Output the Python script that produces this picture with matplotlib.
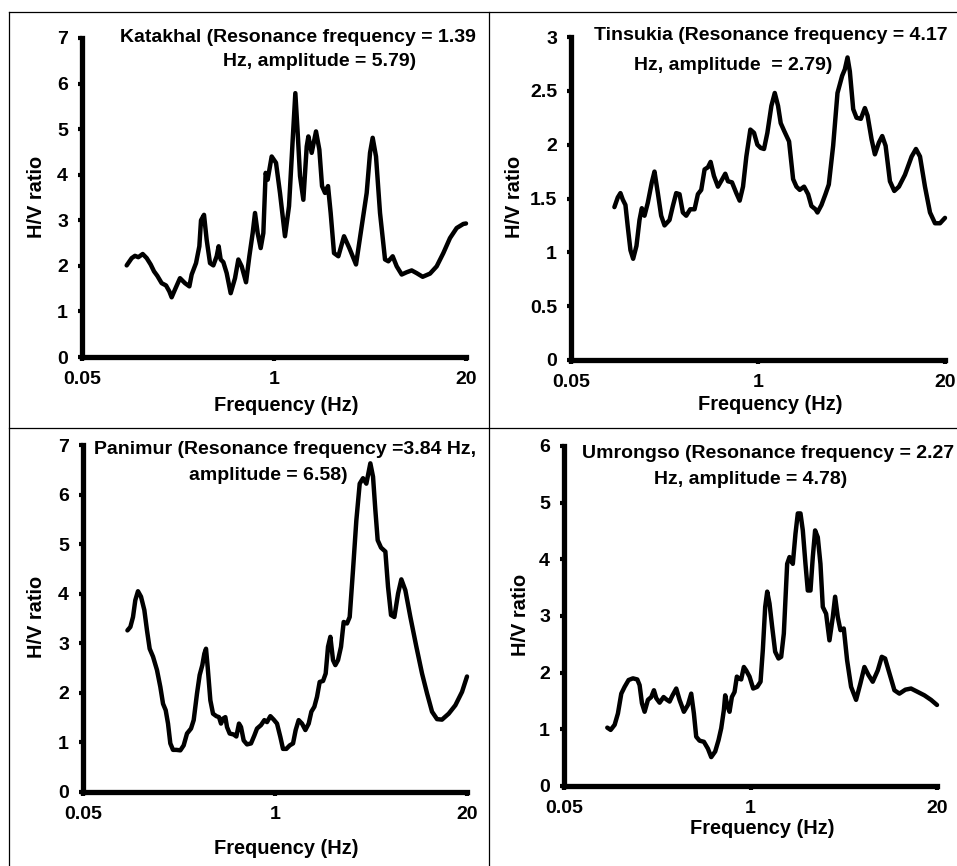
import matplotlib
matplotlib.use("Agg")
import matplotlib.pyplot as plt
from matplotlib.lines import Line2D
from matplotlib.ticker import FixedLocator, NullLocator, FuncFormatter

plt.rcParams['font.family'] = ['Liberation Sans', 'DejaVu Sans']
plt.rcParams['font.weight'] = 'bold'

# Katakhal
f1 = [0.1004, 0.1086, 0.1143, 0.1204, 0.1289, 0.1372, 0.1460, 0.1538, 0.1620, 0.1733,
      0.1855, 0.1953, 0.2025, 0.2133, 0.2307, 0.2494, 0.2670, 0.2768, 0.2962, 0.3120,
      0.3202, 0.3355, 0.3498, 0.3685, 0.3881, 0.4088, 0.4217, 0.4351, 0.4537, 0.4779,
      0.5087, 0.5443, 0.5734, 0.6039, 0.6463, 0.6807, 0.7170, 0.7436, 0.7750, 0.8124,
      0.8468, 0.8779, 0.9058, 0.9645, 1.032, 1.098, 1.187, 1.264, 1.339, 1.395,
      1.447, 1.501, 1.581, 1.666, 1.710, 1.800, 1.926, 2.029, 2.116, 2.217,
      2.323, 2.421, 2.551, 2.730, 2.982, 3.240, 3.596, 3.930, 4.247, 4.474,
      4.663, 4.912, 5.229, 5.654, 5.955, 6.372, 6.783, 7.333, 7.927, 8.570,
      9.265, 10.17, 11.41, 12.66, 14.04, 15.58, 17.29, 19.19, 20.0]
hv1 = [2.01, 2.17, 2.22, 2.19, 2.26, 2.17, 2.03, 1.88, 1.78, 1.62,
       1.57, 1.44, 1.31, 1.48, 1.73, 1.62, 1.55, 1.81, 2.06, 2.43,
       3.00, 3.12, 2.57, 2.06, 2.01, 2.21, 2.43, 2.14, 2.08, 1.84,
       1.40, 1.73, 2.14, 1.99, 1.64, 2.21, 2.72, 3.16, 2.72, 2.39,
       2.72, 4.04, 3.89, 4.40, 4.26, 3.60, 2.65, 3.31, 4.77, 5.79,
       4.92, 3.97, 3.45, 4.62, 4.84, 4.48, 4.95, 4.55, 3.75, 3.60,
       3.75, 3.16, 2.28, 2.21, 2.65, 2.39, 2.03, 2.87, 3.60, 4.48,
       4.81, 4.40, 3.16, 2.14, 2.10, 2.21, 1.99, 1.81, 1.86, 1.90,
       1.84, 1.76, 1.83, 1.99, 2.28, 2.61, 2.83, 2.92, 2.93]

# Tinsukia
f2 = [0.1002, 0.1058, 0.1104, 0.1146, 0.1196, 0.1241, 0.1296, 0.1353, 0.1427, 0.1498,
      0.1555, 0.1623, 0.1711, 0.1825, 0.1905, 0.2010, 0.2120, 0.2237, 0.2423, 0.2556,
      0.2697, 0.2845, 0.3001, 0.3167, 0.3376, 0.3619, 0.3818, 0.4028, 0.4250, 0.4483,
      0.4680, 0.4936, 0.5266, 0.5644, 0.5919, 0.6180, 0.6591, 0.7066, 0.7455, 0.7866,
      0.8297, 0.8846, 0.9381, 0.9897, 1.044, 1.101, 1.162, 1.239, 1.308, 1.379,
      1.439, 1.518, 1.645, 1.755, 1.851, 1.952, 2.092, 2.232, 2.354, 2.510,
      2.592, 2.764, 2.947, 3.109, 3.333, 3.573, 3.851, 4.020, 4.196, 4.355,
      4.596, 4.847, 5.195, 5.541, 5.784, 6.167, 6.505, 6.938, 7.318, 7.723,
      8.278, 8.874, 9.560, 10.53, 11.72, 12.56, 13.40, 14.51, 15.73, 17.04,
      18.47, 20.0]
hv2 = [1.42, 1.51, 1.55, 1.49, 1.44, 1.24, 1.02, 0.94, 1.06, 1.30,
       1.41, 1.34, 1.46, 1.65, 1.75, 1.55, 1.34, 1.25, 1.30, 1.43,
       1.55, 1.54, 1.37, 1.34, 1.40, 1.40, 1.54, 1.58, 1.77, 1.79,
       1.84, 1.71, 1.61, 1.68, 1.73, 1.66, 1.65, 1.55, 1.48, 1.61,
       1.89, 2.14, 2.11, 2.00, 1.97, 1.96, 2.11, 2.36, 2.48, 2.36,
       2.20, 2.13, 2.03, 1.68, 1.61, 1.58, 1.61, 1.54, 1.43, 1.40,
       1.37, 1.44, 1.54, 1.63, 1.99, 2.48, 2.64, 2.70, 2.81, 2.68,
       2.33, 2.25, 2.24, 2.34, 2.27, 2.05, 1.91, 2.02, 2.08, 1.99,
       1.66, 1.57, 1.61, 1.72, 1.89, 1.96, 1.89, 1.61, 1.37, 1.27,
       1.27, 1.32]

# Panimur
f3 = [0.1000, 0.1047, 0.1091, 0.1131, 0.1179, 0.1236, 0.1302, 0.1357, 0.1415, 0.1491,
      0.1586, 0.1671, 0.1743, 0.1817, 0.1884, 0.1953, 0.2036, 0.2145, 0.2283, 0.2405,
      0.2534, 0.2697, 0.2812, 0.2962, 0.3087, 0.3218, 0.3320, 0.3408, 0.3498, 0.3647,
      0.3802, 0.4005, 0.4175, 0.4307, 0.4444, 0.4608, 0.4730, 0.4930, 0.5248, 0.5471,
      0.5701, 0.5884, 0.6134, 0.6463, 0.6877, 0.7246, 0.7553, 0.8039, 0.8468, 0.8828,
      0.9302, 0.9800, 1.032, 1.087, 1.133, 1.194, 1.258, 1.325, 1.381, 1.447,
      1.524, 1.606, 1.692, 1.764, 1.848, 1.926, 2.008, 2.116, 2.205, 2.287,
      2.372, 2.473, 2.564, 2.673, 2.801, 2.920, 3.076, 3.207, 3.378, 3.558,
      3.749, 3.949, 4.159, 4.427, 4.616, 4.786, 4.963, 5.229, 5.596, 5.833,
      6.113, 6.440, 6.820, 7.180, 7.643, 8.266, 9.077, 9.916, 10.72, 11.59,
      12.53, 13.54, 15.03, 16.68, 18.51, 20.0]
hv3 = [3.26, 3.33, 3.53, 3.87, 4.05, 3.94, 3.67, 3.26, 2.89, 2.73,
       2.46, 2.12, 1.78, 1.65, 1.38, 0.98, 0.85, 0.85, 0.84, 0.94,
       1.18, 1.28, 1.45, 1.99, 2.36, 2.56, 2.79, 2.89, 2.52, 1.85,
       1.58, 1.53, 1.51, 1.38, 1.48, 1.51, 1.31, 1.18, 1.16, 1.12,
       1.38, 1.31, 1.04, 0.96, 0.98, 1.14, 1.28, 1.35, 1.45, 1.41,
       1.53, 1.46, 1.38, 1.11, 0.87, 0.87, 0.94, 0.98, 1.25, 1.45,
       1.38, 1.25, 1.38, 1.62, 1.72, 1.92, 2.22, 2.24, 2.39, 2.93,
       3.13, 2.66, 2.56, 2.66, 2.93, 3.43, 3.40, 3.53, 4.48, 5.48,
       6.22, 6.33, 6.22, 6.63, 6.36, 5.69, 5.08, 4.93, 4.85, 4.14,
       3.57, 3.53, 4.00, 4.29, 4.07, 3.53, 2.93, 2.39, 1.99, 1.62,
       1.47, 1.46, 1.58, 1.75, 2.02, 2.33]

# Umrongso
f4 = [0.1002, 0.1058, 0.1128, 0.1189, 0.1255, 0.1324, 0.1411, 0.1513, 0.1623, 0.1684,
      0.1749, 0.1825, 0.1925, 0.2031, 0.2120, 0.2201, 0.2322, 0.2476, 0.2584, 0.2726,
      0.2845, 0.3034, 0.3200, 0.3431, 0.3659, 0.3859, 0.4028, 0.4181, 0.4411, 0.4730,
      0.5043, 0.5321, 0.5674, 0.5985, 0.6249, 0.6519, 0.6660, 0.6877, 0.7138, 0.7414,
      0.7740, 0.8033, 0.8297, 0.8610, 0.8986, 0.9329, 0.9846, 1.044, 1.114, 1.175,
      1.219, 1.266, 1.308, 1.357, 1.416, 1.486, 1.568, 1.637, 1.708, 1.802,
      1.871, 1.973, 2.059, 2.138, 2.232, 2.317, 2.418, 2.510, 2.621, 2.720,
      2.823, 2.947, 3.076, 3.194, 3.369, 3.555, 3.750, 3.893, 4.063, 4.241,
      4.474, 4.719, 5.032, 5.452, 5.843, 6.233, 6.647, 7.124, 7.723, 8.237,
      8.688, 9.311, 10.09, 10.93, 12.04, 13.18, 14.68, 16.33, 18.17, 20.0]
hv4 = [1.03, 0.99, 1.08, 1.28, 1.63, 1.75, 1.87, 1.90, 1.88, 1.78,
       1.46, 1.31, 1.52, 1.57, 1.69, 1.55, 1.47, 1.57, 1.53, 1.49,
       1.59, 1.72, 1.52, 1.31, 1.43, 1.63, 1.28, 0.87, 0.80, 0.78,
       0.66, 0.51, 0.61, 0.81, 1.02, 1.34, 1.60, 1.43, 1.31, 1.57,
       1.66, 1.93, 1.90, 1.88, 2.10, 2.04, 1.93, 1.72, 1.75, 1.84,
       2.40, 3.16, 3.43, 3.22, 2.81, 2.37, 2.25, 2.28, 2.69, 3.92,
       4.04, 3.92, 4.45, 4.81, 4.81, 4.51, 3.92, 3.45, 3.45, 4.04,
       4.51, 4.39, 3.92, 3.16, 3.04, 2.57, 2.98, 3.34, 2.98, 2.75,
       2.78, 2.22, 1.75, 1.52, 1.81, 2.10, 1.96, 1.84, 2.04, 2.28,
       2.25, 1.99, 1.69, 1.63, 1.70, 1.72, 1.66, 1.60, 1.52, 1.43]

x_ticks = [0.05, 1, 20]
x_tick_labels = ['0.05', '1', '20']

W, H = 957, 866
fig = plt.figure(figsize=(W / 100, H / 100), dpi=100)


def px(x, y):
    # pixel position (from top-left) -> figure fraction
    return x / W, 1 - y / H


# panel boxes in pixels: left, top, right, bottom
panels = [
    dict(f=f1, hv=hv1, box=(82, 38, 466, 357), ymax=7, yticks=[0, 1, 2, 3, 4, 5, 6, 7],
         title=[("Katakhal (Resonance frequency = 1.39", 298, 37), ("Hz, amplitude = 5.79)", 320, 62)],
         xlab=(286, 406), ylab=(37, 197)),
    dict(f=f2, hv=hv2, box=(571, 37, 945, 360), ymax=3, yticks=[0, 0.5, 1, 1.5, 2, 2.5, 3],
         title=[("Tinsukia (Resonance frequency = 4.17", 771, 35), ("Hz, amplitude  = 2.79)", 733, 65)],
         xlab=(770, 404), ylab=(515, 197)),
    dict(f=f3, hv=hv3, box=(83, 445, 467, 792), ymax=7, yticks=[0, 1, 2, 3, 4, 5, 6, 7],
         title=[("Panimur (Resonance frequency =3.84 Hz,", 285, 450), ("amplitude = 6.58)", 268, 475)],
         xlab=(286, 848), ylab=(37, 617)),
    dict(f=f4, hv=hv4, box=(564, 446, 937, 786), ymax=6, yticks=[0, 1, 2, 3, 4, 5, 6],
         title=[("Umrongso (Resonance frequency = 2.27", 768, 453), ("Hz, amplitude = 4.78)", 751, 480)],
         xlab=(762, 829), ylab=(520, 615)),
]

for p in panels:
    l, t, r, b = p['box']
    ax = fig.add_axes([l / W, 1 - b / H, (r - l) / W, (b - t) / H])
    ax.plot(p['f'], p['hv'], color='black', lw=3.2, solid_joinstyle='round',
            solid_capstyle='round', clip_on=False)
    ax.set_xscale('log')
    ax.set_xlim(0.05, 20)
    ax.set_ylim(0, p['ymax'])
    ax.xaxis.set_major_locator(FixedLocator(x_ticks))
    ax.xaxis.set_minor_locator(NullLocator())
    ax.set_xticklabels(x_tick_labels)
    ax.yaxis.set_major_locator(FixedLocator(p['yticks']))
    ax.yaxis.set_major_formatter(FuncFormatter(lambda v, pos: f'{v:g}'))
    for s in ['top', 'right']:
        ax.spines[s].set_visible(False)
    for s in ['left', 'bottom']:
        ax.spines[s].set_linewidth(3.8)
        ax.spines[s].set_capstyle('projecting')
    ax.tick_params(axis='both', direction='out', length=3, width=3, labelsize=14, pad=7)
    for lab in ax.get_xticklabels() + ax.get_yticklabels():
        lab.set_fontweight('bold')
    ax.patch.set_alpha(0)

    for txt, x, y in p['title']:
        fx, fy = px(x, y)
        fig.text(fx, fy, txt, ha='center', va='center', fontsize=14, fontweight='bold')
    fx, fy = px(*p['xlab'])
    fig.text(fx, fy, 'Frequency (Hz)', ha='center', va='center', fontsize=14.4, fontweight='bold')
    fx, fy = px(*p['ylab'])
    fig.text(fx, fy, 'H/V ratio', ha='center', va='center', rotation=90, fontsize=14.4, fontweight='bold')

# table-like frame lines
for (x0, y0, x1, y1) in [(9, 12, W, 12), (9, 428, W, 428), (9, 12, 9, H), (489, 12, 489, H)]:
    a, b_ = px(x0, y0)
    c, d = px(x1, y1)
    fig.add_artist(Line2D([a, c], [b_, d], color='black', lw=0.9))

fig.savefig('out.png', dpi=100)
